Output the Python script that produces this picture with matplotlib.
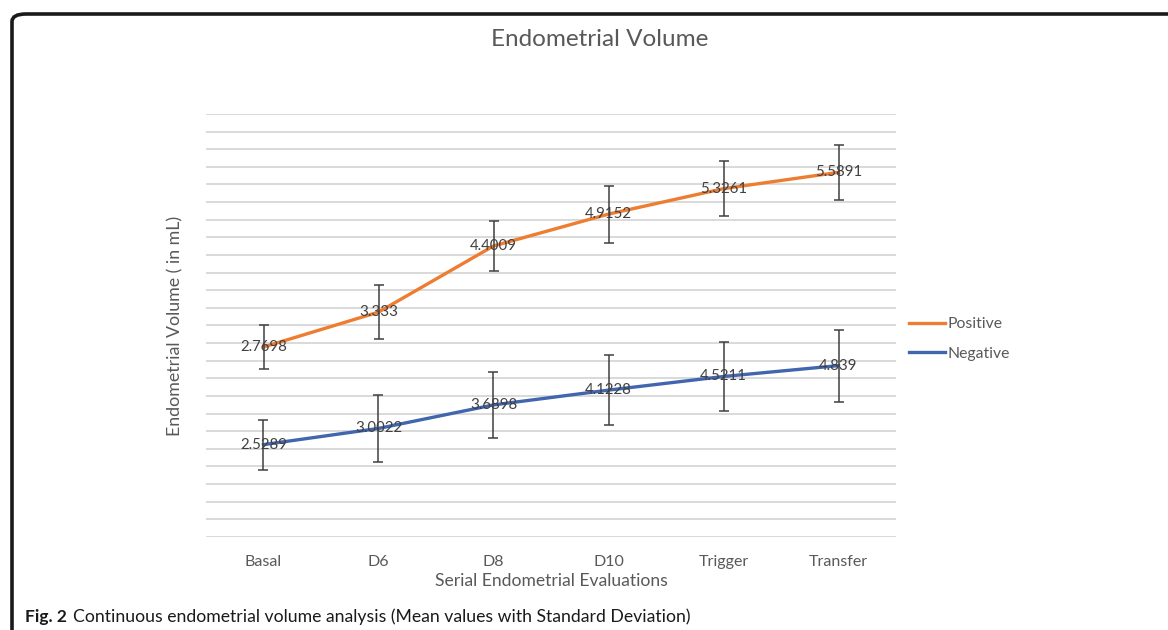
import matplotlib.pyplot as plt
import numpy as np
from matplotlib.patches import FancyBboxPatch

plt.rcParams['font.family'] = ['Lato', 'DejaVu Sans']

# data
stages = ["Basal", "D6", "D8", "D10", "Trigger", "Transfer"]
positive = [2.7698, 3.333, 4.4009, 4.9152, 5.3261, 5.5891]
positive_sd = [0.36, 0.43, 0.41, 0.46, 0.44, 0.44]
negative = [2.5289, 3.0022, 3.6898, 4.1228, 4.5211, 4.839]
negative_sd = [0.73, 0.99, 0.96, 1.02, 1.02, 1.05]

orange = "#ED7D31"
blue = "#4166AE"
txt = "#404040"
grey = "#595959"

W, H = 1168, 630
fig = plt.figure(figsize=(W / 100, H / 100), dpi=100)

# axes box in pixels: left 206, right 896, top 114, bottom 537
ax = fig.add_axes([206 / W, 1 - 537 / H, 690 / W, 423 / H])
ax2 = ax.twinx()

x = np.arange(len(stages))

# positive series on main axis
ax.errorbar(x, positive, yerr=positive_sd, fmt='none', ecolor=txt,
            elinewidth=1.1, capsize=3.5, capthick=1.1, zorder=3)
lp, = ax.plot(x, positive, color=orange, lw=2.4, zorder=2, label="Positive")
for xi, v in zip(x, positive):
    ax.text(xi, v, f"{v:g}", ha='center', va='center', fontsize=10.8,
            color=txt, zorder=4)

# negative series on secondary (hidden) axis
ax2.errorbar(x, negative, yerr=negative_sd, fmt='none', ecolor=txt,
             elinewidth=1.1, capsize=3.5, capthick=1.1, zorder=3)
ln, = ax2.plot(x, negative, color=blue, lw=2.4, zorder=2, label="Negative")
for xi, v in zip(x, negative):
    ax2.text(xi, v, f"{v:g}", ha='center', va='center', fontsize=10.8,
             color=txt, zorder=4)

ax.set_xlim(-0.5, len(stages) - 0.5)
ax.set_ylim(-0.297, 6.531)
ax2.set_ylim(-0.172, 12.196)

ax.set_yticks(np.linspace(-0.297, 6.531, 25))
ax.grid(axis='y', color="#D9D9D9", lw=1.4)
ax.set_axisbelow(True)
ax.tick_params(axis='y', left=False, labelleft=False)
ax2.tick_params(axis='y', right=False, labelright=False)

ax.set_xticks(x)
ax.set_xticklabels(stages, fontsize=11.5, color=grey)
ax.tick_params(axis='x', length=0, pad=13)

for a in (ax, ax2):
    for s in a.spines.values():
        s.set_visible(False)

ax.set_xlabel("Serial Endometrial Evaluations", fontsize=12.6, color=grey,
              labelpad=3)
ax.set_ylabel("Endometrial Volume ( in mL)", fontsize=12.8, color=grey,
              labelpad=16)

fig.text(600 / W, 1 - 39 / H, "Endometrial Volume", ha='center', va='center',
         fontsize=17.5, color=grey)

fig.legend(handles=[lp, ln], loc='center left',
           bbox_to_anchor=(895 / W, 1 - 339 / H), frameon=False,
           fontsize=11.3, labelcolor=grey, handlelength=2.3,
           handletextpad=0.15, labelspacing=1.0)

# caption
fig.text(25 / W, 1 - 617 / H, "Fig. 2", fontsize=12.5, fontweight='bold',
         va='center', color="#1a1a1a")
fig.text(73 / W, 1 - 617 / H,
         "Continuous endometrial volume analysis (Mean values with Standard Deviation)",
         fontsize=12.7, va='center', color="#1a1a1a")

# black rounded frame running off the right and bottom edges
frame = FancyBboxPatch((12 / W, -0.2), 1.3, 1 - 14 / H + 0.2,
                       boxstyle="round,pad=0,rounding_size=0.012",
                       transform=fig.transFigure, fill=False,
                       edgecolor="#1a1a1a", lw=2.6, clip_on=False)
fig.patches.append(frame)

fig.savefig("out.png", dpi=100)
